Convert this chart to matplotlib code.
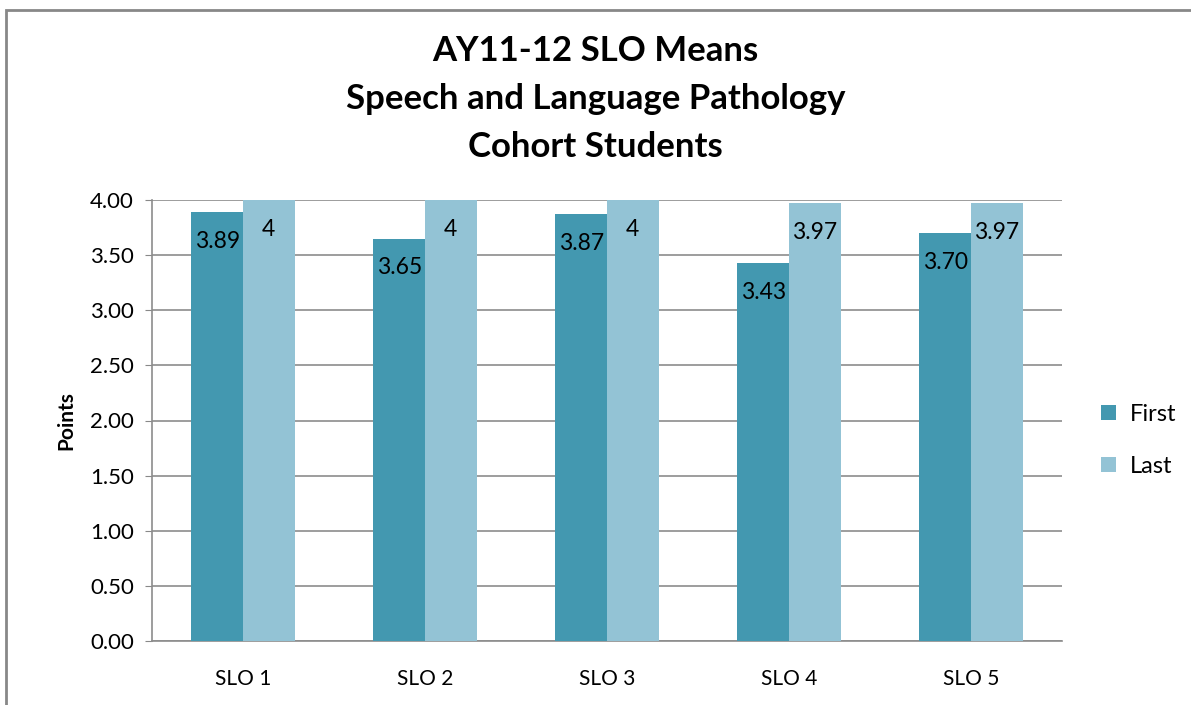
import numpy as np
import matplotlib.pyplot as plt
from matplotlib.patches import Rectangle

plt.rcParams['font.family'] = ['Lato', 'DejaVu Sans']

categories = ['SLO 1', 'SLO 2', 'SLO 3', 'SLO 4', 'SLO 5']
first = [3.89, 3.65, 3.87, 3.43, 3.70]
last = [4.00, 4.00, 4.00, 3.97, 3.97]
first_labels = ['3.89', '3.65', '3.87', '3.43', '3.70']
last_labels = ['4', '4', '4', '3.97', '3.97']
yticks = [0.0, 0.5, 1.0, 1.5, 2.0, 2.5, 3.0, 3.5, 4.0]

fig = plt.figure(figsize=(11.91, 7.05), dpi=100)
ax = fig.add_axes([152 / 1191, 1 - 641 / 705, 910 / 1191, 441 / 705])

# marco exterior del grafico
fig.patches.append(Rectangle((6 / 1191, -0.1), 1.2, 1 - 10 / 705 + 0.1,
                             transform=fig.transFigure, fill=False,
                             edgecolor='#888888', linewidth=2))

x = np.arange(len(categories))
w = 0.283
col_first = '#4398B0'
col_last = '#93C3D5'

b1 = ax.bar(x - w / 2, first, width=w, color=col_first, label='First', zorder=3)
b2 = ax.bar(x + w / 2, last, width=w, color=col_last, label='Last', zorder=3)

for bars, labs in ((b1, first_labels), (b2, last_labels)):
    for bar, lab in zip(bars, labs):
        ax.annotate(lab, (bar.get_x() + bar.get_width() / 2, bar.get_height()),
                    xytext=(0, -21), textcoords='offset points',
                    ha='center', va='center', fontsize=16.5, color='black', zorder=4)

ax.set_xlim(-0.5, len(categories) - 0.5)
ax.set_ylim(0, 4)
ax.set_yticks(yticks)
ax.set_yticklabels([f'{v:.2f}' for v in yticks], fontsize=16)
ax.set_xticks(x)
ax.set_xticklabels(categories, fontsize=15)
ax.tick_params(axis='x', length=0, pad=20)
ax.tick_params(axis='y', length=5, color='#888888', pad=8)
ax.yaxis.grid(True, color='#8C8C8C', linewidth=1.2, zorder=0)
ax.set_axisbelow(True)
for s in ('top', 'right'):
    ax.spines[s].set_visible(False)
for s in ('left', 'bottom'):
    ax.spines[s].set_color('#8C8C8C')
    ax.spines[s].set_linewidth(1.2)

ax.set_ylabel('Points', fontsize=15, fontweight='bold', labelpad=10)

fig.text(0.5, 1 - 99 / 705, 'AY11-12 SLO Means\nSpeech and Language Pathology\nCohort Students',
         ha='center', va='center', fontsize=25, fontweight='bold', linespacing=1.6)

ax.legend(loc='center left', bbox_to_anchor=(1.02, 0.455), frameon=False,
          fontsize=17, handlelength=0.6, handleheight=0.6, labelspacing=1.3,
          handletextpad=0.6)

fig.savefig('out.png', dpi=100)
